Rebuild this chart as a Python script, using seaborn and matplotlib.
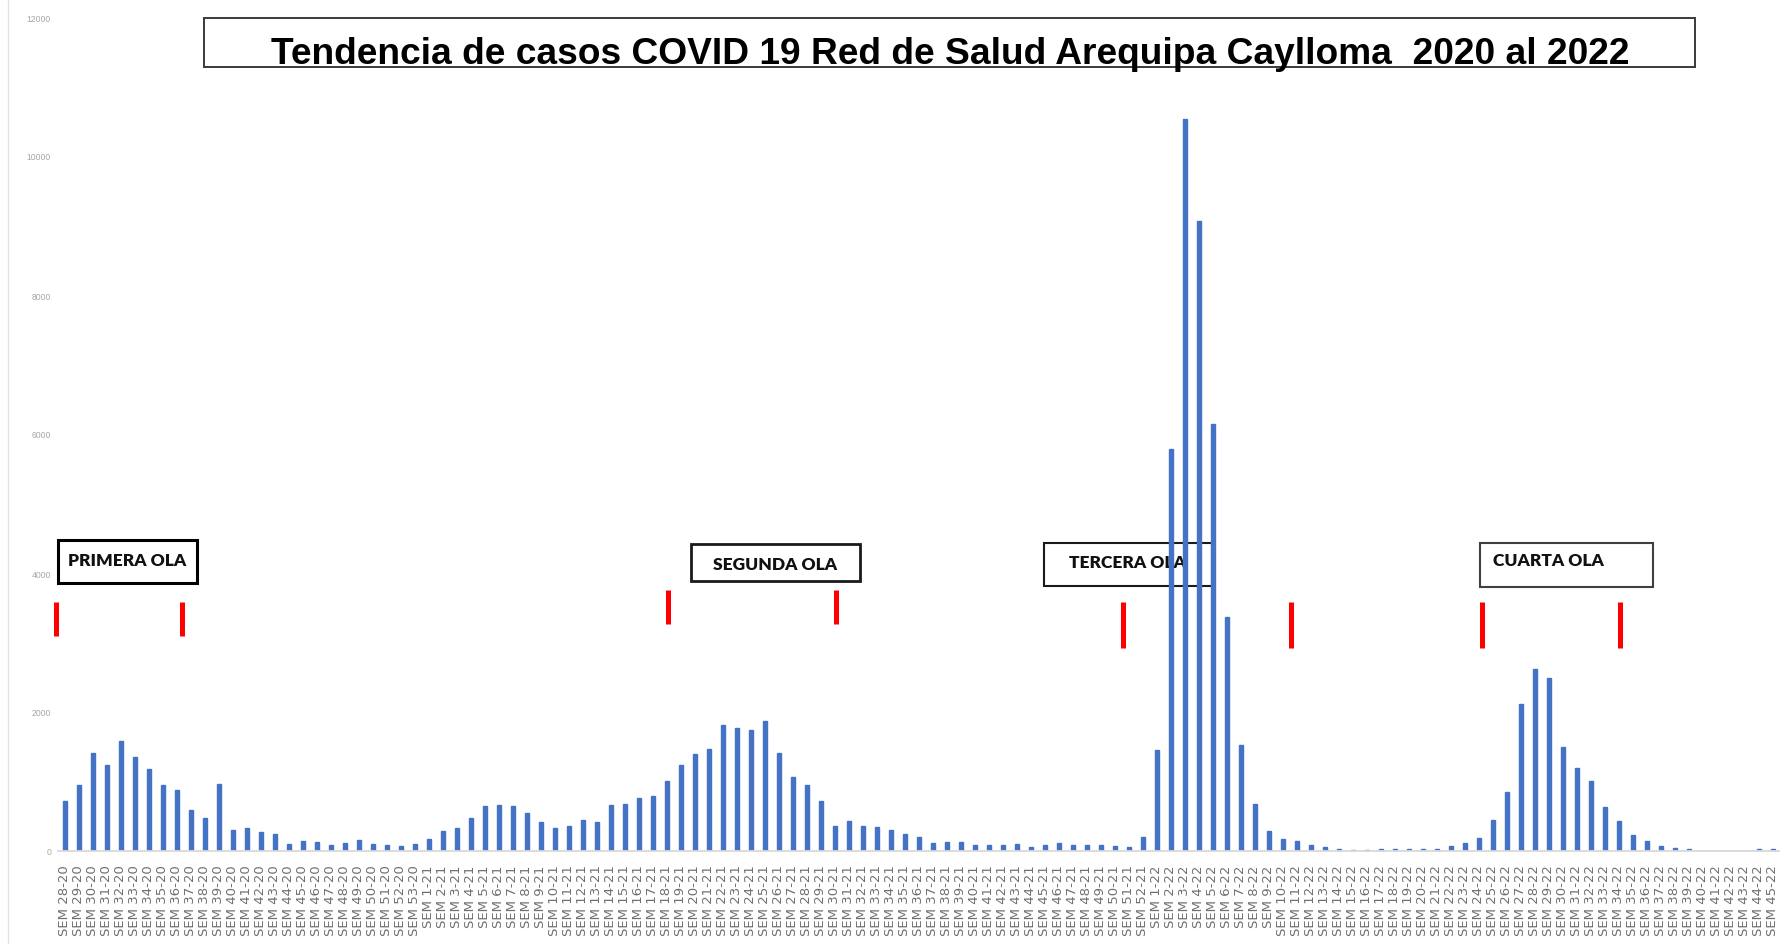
import matplotlib
matplotlib.use("Agg")
import matplotlib.pyplot as plt
from matplotlib.patches import Rectangle
from matplotlib.lines import Line2D
import pandas as pd
import seaborn as sns

# ---- data -------------------------------------------------------------
weeks_2020 = list(range(28, 54))
weeks_2021 = list(range(1, 53))
weeks_2022 = list(range(1, 46))

week_labels = ([f"SEM {w}-20" for w in weeks_2020]
               + [f"SEM {w}-21" for w in weeks_2021]
               + [f"SEM {w}-22" for w in weeks_2022])

cases_2020 = [713, 950, 1417, 1243, 1586, 1354, 1186, 950, 882, 583, 468, 959,
              308, 328, 280, 241, 101, 145, 135, 82, 120, 159, 106, 92, 72, 101]

cases_2021 = [178, 285, 337, 468, 646, 665, 646, 549, 415, 337, 366, 453, 415,
              665, 675, 757, 795, 1003, 1244, 1398, 1470, 1808, 1764, 1745, 1865,
              1407, 1060, 945, 718, 357, 429, 357, 347, 308, 241, 198, 120, 130,
              130, 92, 92, 92, 101, 58, 92, 111, 92, 82, 92, 72, 58, 207]

cases_2022 = [1456, 5780, 10530, 9070, 6140, 3370, 1530, 675, 289, 169, 140, 82,
              53, 34, 14, 14, 24, 24, 34, 24, 34, 67, 111, 188, 453, 848, 2111,
              2622, 2491, 1494, 1195, 1003, 627, 434, 231, 149, 77, 48, 29, 0, 0,
              0, 0, 24, 24]

y_ticks = [0, 2000, 4000, 6000, 8000, 10000, 12000]

title_text = "Tendencia de casos COVID 19 Red de Salud Arequipa Caylloma  2020 al 2022"
wave_names = ["PRIMERA OLA", "SEGUNDA OLA", "TERCERA OLA", "CUARTA OLA"]

df = pd.DataFrame({"semana": week_labels,
                   "casos": cases_2020 + cases_2021 + cases_2022})

# ---- layout of the wave annotations (bar-index / case units) ----------
wave_boxes = [(-0.5, 9.43, 3857, 4475),
              (44.7, 56.8, 3885, 4418),
              (69.9, 81.9, 3813, 4432),
              (101.1, 113.4, 3799, 4432)]
wave_text_pos = [(4.47, 4180, "center"), (50.75, 4130, "center"),
                 (75.9, 4160, "center"), (102.0, 4190, "left")]
wave_box_lw = [2.2, 2.0, 1.5, 1.5]
wave_box_ec = ["#000000", "#1a1a1a", "#1a1a1a", "#404040"]
wave_marks = [((-0.64, 8.36), (3094, 3583)),
              ((43.1, 55.1), (3267, 3756)),
              ((75.6, 87.6), (2921, 3583)),
              ((101.2, 111.1), (2921, 3583))]

# ---- figure -----------------------------------------------------------
sns.set_style("white")
plt.rcParams["font.family"] = ["Liberation Sans", "DejaVu Sans"]

W, H = 1781, 945
fig = plt.figure(figsize=(W / 100, H / 100), dpi=100)
ax = fig.add_axes([58 / W, (H - 852) / H, 1722 / W, (852 - 18) / H])

bar_color = "#4472C4"
sns.barplot(data=df, x="semana", y="casos", color=bar_color, width=0.27,
            saturation=1, ax=ax, zorder=2, edgecolor=bar_color, linewidth=1.0)

ax.set_xlim(-0.5, len(week_labels) - 0.5)
ax.set_ylim(0, 12000)
ax.set_yticks(y_ticks)
ax.set_yticklabels([str(t) for t in y_ticks], fontsize=6.2, color="#a6a6a6",
                   family=["Liberation Sans Narrow", "Liberation Sans"])
ax.set_xlabel("")
ax.set_ylabel("")
ax.tick_params(axis="y", length=0, pad=5)
ax.tick_params(axis="x", length=0, pad=9.5)
for lab in ax.get_xticklabels():
    lab.set_rotation(90)
    lab.set_fontsize(9.5)
    lab.set_color("#707070")
    lab.set_family(["DejaVu Sans"])
    lab.set_va("top")
    lab.set_ha("center")

for side in ("left", "right", "top"):
    ax.spines[side].set_visible(False)
ax.spines["bottom"].set_color("#d9d9d9")
ax.spines["bottom"].set_linewidth(1.3)
ax.grid(False)

# thin frame line along the left edge of the chart area
fig.add_artist(Line2D([8 / W, 8 / W], [0, 1], transform=fig.transFigure,
                      color="#e3e3e3", lw=1.0))

# title with its frame
fig.add_artist(Rectangle((204 / W, 1 - 68 / H), (1695 - 204) / W, (68 - 19) / H,
                         transform=fig.transFigure, fill=False,
                         edgecolor="#3a3a3a", lw=1.4))
fig.text(950 / W, 1 - 64 / H, title_text, ha="center", va="baseline",
         fontsize=26.7, fontweight="bold", color="black",
         family=["Liberation Sans", "DejaVu Sans"])

# wave boxes, labels and red boundary marks
for name, (x0, x1, y0, y1), (tx, ty, ha), lw, ec, (mx, my) in zip(
        wave_names, wave_boxes, wave_text_pos, wave_box_lw, wave_box_ec, wave_marks):
    ax.add_patch(Rectangle((x0, y0), x1 - x0, y1 - y0, fill=False,
                           edgecolor=ec, lw=lw, zorder=1, clip_on=False))
    ax.text(tx, ty, name, ha=ha, va="center", fontsize=12.5, fontweight="heavy",
            color="#111111", family=["Lato", "DejaVu Sans"], zorder=1)
    for xm in mx:
        ax.plot([xm, xm], list(my), color="#ff0000", lw=3.6,
                solid_capstyle="butt", zorder=3, clip_on=False)

fig.savefig("out.png", dpi=100)
